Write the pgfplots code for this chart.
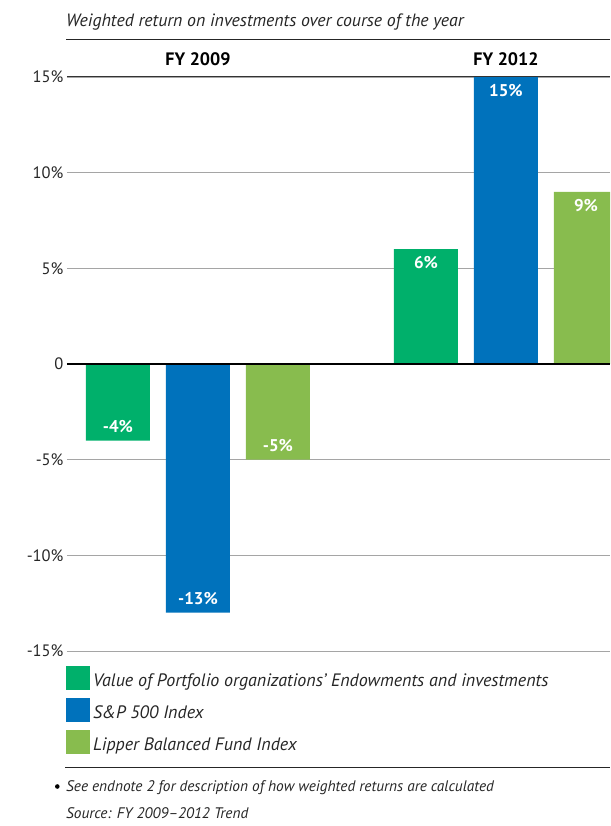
\documentclass[border=0pt]{standalone}
\usepackage{fontspec}
\setmainfont{PT Sans}
\usepackage{pgfplots}
\pgfplotsset{compat=1.18}
\definecolor{cgreen}{RGB}{0,176,107}
\definecolor{cblue}{RGB}{0,114,188}
\definecolor{clgreen}{RGB}{136,188,78}
\definecolor{cgrid}{RGB}{165,165,165}
\begin{document}
\begin{tikzpicture}[x=1pt,y=1pt]
\useasboundingbox (-67,-175) rectangle (543,651);
\begin{axis}[
  at={(0,0)}, anchor=south west,
  scale only axis, width=543pt, height=574pt,
  xmin=-0.4253, xmax=1.3377, ymin=-15, ymax=15,
  enlargelimits=false,
  clip mode=individual,
  ybar=16pt, bar width=64pt,
  xtick=\empty,
  ytick={-15,-10,-5,0,5,10,15},
  yticklabels={-15\%,-10\%,-5\%,0,5\%,10\%,15\%},
  yticklabel style={font=\fontsize{16.5}{16.5}\selectfont, text=black!85},
  ytick style={draw=none},
  major tick length=0pt,
  axis line style={draw=none},
  ymajorgrids, grid style={cgrid, line width=0.9pt},
  /pgf/number format/assume math mode=true,
  nodes near coords={\pgfmathprintnumber{\pgfplotspointmeta}\%},
  visualization depends on={rawy \as \rawy},
  every node near coord/.append style={
    font=\bfseries\fontsize{17}{17}\selectfont, text=white,
    /utils/exec={\ifdim\rawy pt<0pt \gdef\myanc{south}\gdef\mysh{4pt}\else\gdef\myanc{north}\gdef\mysh{-4pt}\fi},
    anchor=\myanc, yshift=\mysh},
  legend style={at={(axis description cs:-0.0018,-0.0261)}, anchor=north west,
    draw=none, fill=none, inner sep=0pt, outer sep=0pt,
    nodes={inner sep=0pt, font=\itshape\fontsize{18}{18}\selectfont, text=black!85},
    row sep=8pt, column sep=3pt},
  legend cell align=left,
]
\addplot[fill=cgreen, draw=none, legend image code/.code={\path[fill=cgreen] (0pt,-9.25pt) rectangle (24pt,14.75pt);}]
  coordinates {(0,-4) (1,6)};
\addplot[fill=cblue, draw=none, legend image code/.code={\path[fill=cblue] (0pt,-9.25pt) rectangle (24pt,14.75pt);}]
  coordinates {(0,-13) (1,15)};
\addplot[fill=clgreen, draw=none, legend image code/.code={\path[fill=clgreen] (0pt,-9.25pt) rectangle (24pt,14.75pt);}]
  coordinates {(0,-5) (1,9)};
\legend{Value of Portfolio organizations’ Endowments and investments, S\&P 500 Index, Lipper Balanced Fund Index}
\draw[black, line width=1.3pt] ({rel axis cs:0,0} |- {axis cs:0,0}) -- ({rel axis cs:1,0} |- {axis cs:0,0});
\draw[black!80, line width=1pt] (rel axis cs:0,1) -- (rel axis cs:1,1);
\node[anchor=base, font=\bfseries\fontsize{18}{18}\selectfont] at (axis cs:0,15) [yshift=11pt] {FY 2009};
\node[anchor=base, font=\bfseries\fontsize{18}{18}\selectfont] at (axis cs:1,15) [yshift=11pt] {FY 2012};
\end{axis}
\node[anchor=base west, inner sep=0pt, font=\itshape\fontsize{17.8}{17.8}\selectfont, text=black!85] at (-1,624) {Weighted return on investments over course of the year};
\draw[black!85, line width=1pt] (-1,611.5) -- (543,611.5);
\draw[black!85, line width=1pt] (-2,-116) -- (543,-116);
\fill[black] (-9.7,-135.5) circle (2.3pt);
\node[anchor=base west, inner sep=0pt, font=\itshape\fontsize{15.3}{15.3}\selectfont, text=black!85] at (-1,-140.7) {See endnote 2 for description of how weighted returns are calculated};
\node[anchor=base west, inner sep=0pt, font=\itshape\fontsize{15.3}{15.3}\selectfont, text=black!85] at (-1,-167) {Source: FY 2009–2012 Trend};
\end{tikzpicture}
\end{document}
